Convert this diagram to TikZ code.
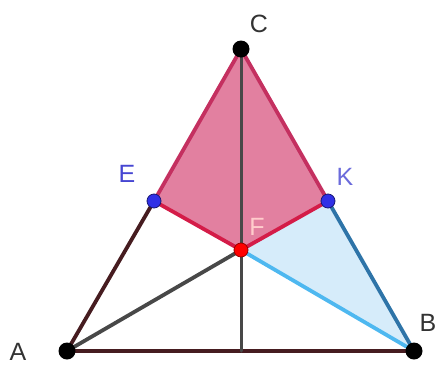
\documentclass[tikz,border=0pt]{standalone}
\usepackage{fontspec}
\setmainfont{Liberation Sans}
\definecolor{pinkfill}{RGB}{226,128,160}
\definecolor{pinkedge}{RGB}{196,48,96}
\definecolor{rededge}{RGB}{212,28,72}
\definecolor{bluefill}{RGB}{214,236,250}
\definecolor{darkblue}{RGB}{46,116,168}
\definecolor{lightblue}{RGB}{78,184,240}
\definecolor{brownedge}{RGB}{70,28,32}
\definecolor{grayedge}{RGB}{72,72,72}
\definecolor{ptblue}{RGB}{48,48,230}
\definecolor{lblblue}{RGB}{70,70,210}
\tikzset{
  seg/.style={line width=3.8pt, line cap=round},
  vertex/.style={circle, fill=black, inner sep=0pt, minimum size=17pt},
  midpt/.style={circle, fill=ptblue, draw=ptblue!50!black, line width=0.8pt, inner sep=0pt, minimum size=14pt},
  centpt/.style={circle, fill=red, draw=red!60!black, line width=0.8pt, inner sep=0pt, minimum size=14pt},
  lbl/.style={font=\fontsize{25}{29}\selectfont, inner sep=0pt}
}

\begin{document}
\begin{tikzpicture}[x=1pt, y=-1pt]

    \useasboundingbox (0,0) rectangle (437,365);

    % Points of the triangle
    \coordinate (A) at (67,351);
    \coordinate (B) at (414,351);
    \coordinate (C) at (241,49);
    \coordinate (E) at (154,201);
    \coordinate (K) at (328,201);
    \coordinate (F) at (241,250);
    \coordinate (M) at (241,351);

    % Shaded regions
    \fill[pinkfill] (C) -- (E) -- (F) -- (K) -- cycle;
    \fill[bluefill] (F) -- (K) -- (B) -- cycle;

    % Sides and segments
    \draw[seg, brownedge] (A) -- (E);
    \draw[seg, brownedge] (A) -- (B);
    \draw[seg, grayedge] (A) -- (F);
    \draw[seg, grayedge, line width=3pt] (C) -- (M);
    \draw[seg, lightblue] (F) -- (B);
    \draw[seg, darkblue] (K) -- (B);
    \draw[seg, pinkedge] (E) -- (C) -- (K);
    \draw[seg, rededge] (E) -- (F) -- (K);

    % Dots
    \node[vertex] (dA) at (A) {};
    \node[vertex] (dB) at (B) {};
    \node[vertex] (dC) at (C) {};
    \node[midpt] (dE) at (E) {};
    \node[midpt] (dK) at (K) {};
    \node[centpt] (dF) at (F) {};

    % Labels
    \node[lbl, text=black!80] (lA) at (18,352) {A};
    \node[lbl, text=black!80] (lB) at (428,323) {B};
    \node[lbl, text=black!80] (lC) at (259,24) {C};
    \node[lbl, text=lblblue] (lE) at (127,174) {E};
    \node[lbl, text=lblblue!80] (lK) at (345,177) {K};
    \node[lbl, text=red!20] (lF) at (257,227) {F};

\end{tikzpicture}
\end{document}
